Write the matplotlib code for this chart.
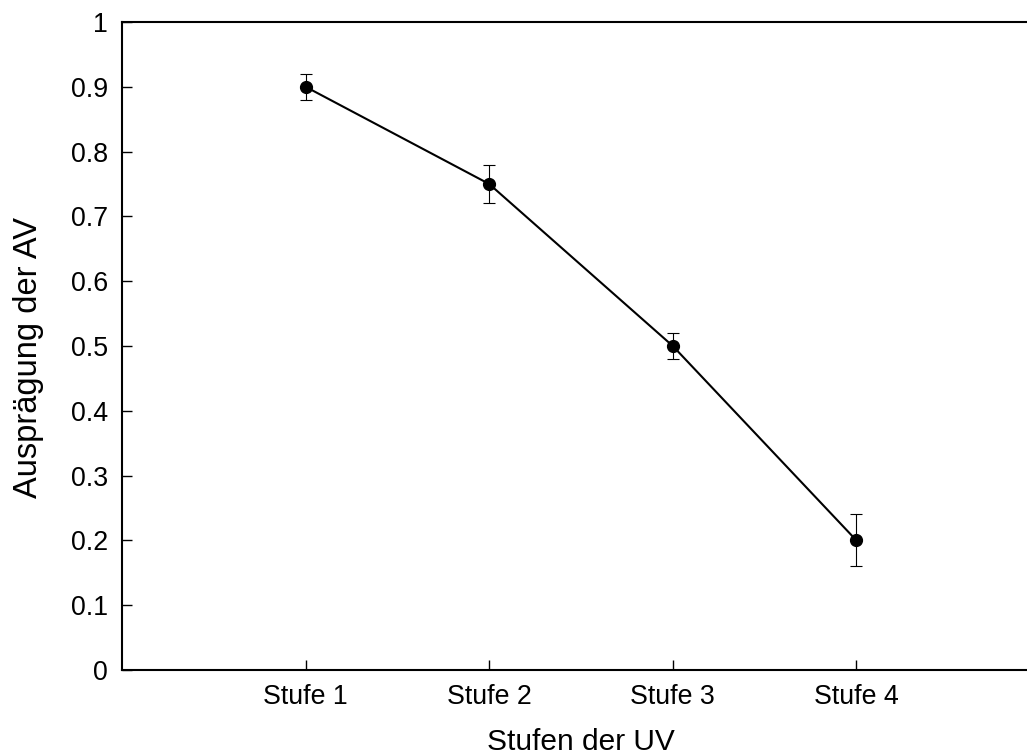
import numpy as np
import matplotlib
matplotlib.use("Agg")
import matplotlib.pyplot as plt

plt.rcParams['font.family'] = ['Liberation Sans', 'DejaVu Sans']

# data
stufen = ["Stufe 1", "Stufe 2", "Stufe 3", "Stufe 4"]
werte = [0.9, 0.75, 0.5, 0.2]
fehler = [0.02, 0.03, 0.02, 0.04]
y_ticks = [0, 0.1, 0.2, 0.3, 0.4, 0.5, 0.6, 0.7, 0.8, 0.9, 1]
y_labels = ["0", "0.1", "0.2", "0.3", "0.4", "0.5", "0.6", "0.7", "0.8", "0.9", "1"]

W, H = 1027, 755
fig = plt.figure(figsize=(W / 100, H / 100), dpi=100)
# axes runs a bit past the right figure edge (cropped like the original)
ax = fig.add_axes([122 / W, 1 - 670 / H, (1040 - 122) / W, (670 - 22) / H])

x = np.arange(1, len(stufen) + 1)
ax.errorbar(x, werte, yerr=fehler, color="black", lw=1.5, marker="o", ms=8.5,
            ecolor="black", elinewidth=0.8, capsize=4.5, capthick=0.8)

ax.set_xlim(0, 5)
ax.set_ylim(0, 1)
ax.set_xticks(x)
ax.set_xticklabels(stufen)
ax.set_yticks(y_ticks)
ax.set_yticklabels(y_labels)

ax.spines['right'].set_visible(False)
for s in ['left', 'bottom', 'top']:
    ax.spines[s].set_linewidth(1.5)

ax.tick_params(direction="in", length=7, width=1.0, labelsize=19.3, pad=10)
ax.tick_params(axis="x", top=False)
ax.tick_params(axis="y", right=False)

ax.set_xlabel("Stufen der UV", fontsize=21.5)
ax.set_ylabel("Ausprägung der AV", fontsize=23.5)
ax.xaxis.set_label_coords(581 / W, 1 - 750 / H, transform=fig.transFigure)
ax.xaxis.label.set_va("baseline")
ax.yaxis.set_label_coords(29 / W, 1 - 357 / H, transform=fig.transFigure)
ax.yaxis.label.set_va("center")

fig.savefig("out.png", dpi=100)
